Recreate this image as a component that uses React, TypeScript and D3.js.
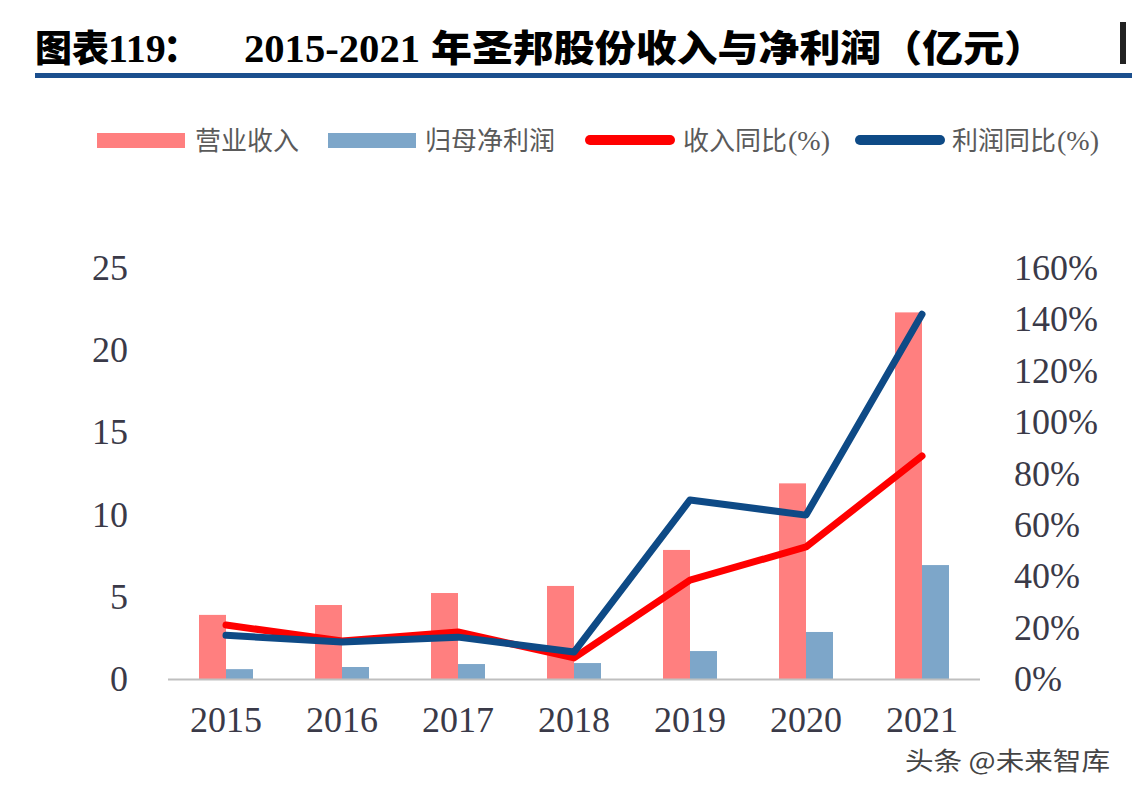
import React from "react";
import * as d3 from "d3";

const years = ["2015", "2016", "2017", "2018", "2019", "2020", "2021"];
const revenue = [3.9, 4.5, 5.23, 5.66, 7.85, 11.9, 22.3];
const netProfit = [0.6, 0.73, 0.91, 0.97, 1.7, 2.86, 6.93];
const revenueYoY = [21, 14.8, 18.3, 8.2, 38.5, 51.4, 86.8];
const profitYoY = [17, 14.4, 16.3, 10.5, 69.7, 63.8, 142];
const leftTicks = [0, 5, 10, 15, 20, 25];
const rightTicks = [0, 20, 40, 60, 80, 100, 120, 140, 160];

const W = 1132;
const H = 792;
const plot = { left: 168, right: 980, top: 268, bottom: 679 };

const RED_BAR = "#FF7F7F";
const BLUE_BAR = "#7DA6C9";
const RED_LINE = "#FF0000";
const BLUE_LINE = "#0E4A86";
const TXT = "#3a3a48";
const SERIF = "'Times New Roman', 'Liberation Serif', serif";
const CJK = "'Noto Sans CJK SC', sans-serif";

export default function App() {
  const x = d3.scaleBand<string>().domain(years).range([plot.left, plot.right]).padding(0);
  const yL = d3.scaleLinear().domain([0, 25]).range([plot.bottom, plot.top]);
  const yR = d3.scaleLinear().domain([0, 160]).range([plot.bottom, plot.top]);
  const barW = 27;
  const cx = (y: string) => (x(y) as number) + x.bandwidth() / 2;

  const lineGen = d3
    .line<number>()
    .x((_, i) => cx(years[i]))
    .y((d) => yR(d));

  return (
    <svg
      width={W}
      height={H}
      viewBox={`0 0 ${W} ${H}`}
      style={{ display: "block", position: "absolute", left: 0, top: 0, background: "#fff" }}
    >
      <rect x={0} y={0} width={W} height={H} fill="#fff" />
      {/* Title */}
      <g fill="#000">
        <text x={35} y={62} fontFamily={CJK} fontSize={37} fontWeight={900}>图表</text>
        <text x={108} y={62} fontFamily={SERIF} fontSize={40} fontWeight="bold">119</text>
        <text x={163} y={62} fontFamily={CJK} fontSize={37} fontWeight={900}>：</text>
        <text x={244} y={62} fontFamily={SERIF} fontSize={40} fontWeight="bold" textLength={176} lengthAdjust="spacingAndGlyphs">2015-2021</text>
        <text x={431} y={62} fontFamily={CJK} fontSize={37} fontWeight={900} textLength={614} lengthAdjust="spacingAndGlyphs">年圣邦股份收入与净利润（亿元）</text>
      </g>
      <rect x={1120} y={22} width={6} height={42} fill="#222" />
      <rect x={35} y={73} width={W - 35} height={5} fill="#1B4F8E" />

      {/* Legend */}
      <g fontFamily={CJK} fontSize={26} fill="#5a5a5a">
        <rect x={97} y={133} width={88} height={15} fill={RED_BAR} />
        <text x={195} y={150}>营业收入</text>
        <rect x={328} y={133} width={88} height={15} fill={BLUE_BAR} />
        <text x={425} y={150}>归母净利润</text>
        <line x1={590} x2={670} y1={140} y2={140} stroke={RED_LINE} strokeWidth={10} strokeLinecap="round" />
        <text x={683} y={150}>收入同比</text>
        <text x={788} y={150} fontFamily={SERIF} fontSize={28}>(%)</text>
        <line x1={860} x2={940} y1={140} y2={140} stroke={BLUE_LINE} strokeWidth={10} strokeLinecap="round" />
        <text x={952} y={150}>利润同比</text>
        <text x={1057} y={150} fontFamily={SERIF} fontSize={28}>(%)</text>
      </g>

      {/* Bars */}
      {years.map((yr, i) => (
        <g key={yr}>
          <rect x={cx(yr) - barW} y={yL(revenue[i])} width={barW} height={plot.bottom - yL(revenue[i])} fill={RED_BAR} />
          <rect x={cx(yr)} y={yL(netProfit[i])} width={barW} height={plot.bottom - yL(netProfit[i])} fill={BLUE_BAR} />
        </g>
      ))}

      {/* Axis line */}
      <line x1={plot.left} x2={plot.right} y1={plot.bottom + 0.5} y2={plot.bottom + 0.5} stroke="#BFBFBF" strokeWidth={2} />

      {/* Lines */}
      <path d={lineGen(revenueYoY) || ""} fill="none" stroke={RED_LINE} strokeWidth={7} strokeLinejoin="round" strokeLinecap="round" />
      <path d={lineGen(profitYoY) || ""} fill="none" stroke={BLUE_LINE} strokeWidth={7} strokeLinejoin="round" strokeLinecap="round" />

      {/* Left ticks */}
      <g fontFamily={SERIF} fontSize={36} fill={TXT} textAnchor="end">
        {leftTicks.map((t) => (
          <text key={t} x={128} y={yL(t) + 12}>{t}</text>
        ))}
      </g>
      {/* Right ticks */}
      <g fontFamily={SERIF} fontSize={36} fill={TXT} textAnchor="start">
        {rightTicks.map((t) => (
          <text key={t} x={1014} y={yR(t) + 12}>{t + "%"}</text>
        ))}
      </g>
      {/* X labels */}
      <g fontFamily={SERIF} fontSize={36} fill={TXT} textAnchor="middle">
        {years.map((yr) => (
          <text key={yr} x={cx(yr)} y={732}>{yr}</text>
        ))}
      </g>

      {/* Watermark */}
      <text x={905} y={770} fontFamily={CJK} fontSize={25} fill="#444" textLength={205} lengthAdjust="spacingAndGlyphs">头条 @未来智库</text>
    </svg>
  );
}
